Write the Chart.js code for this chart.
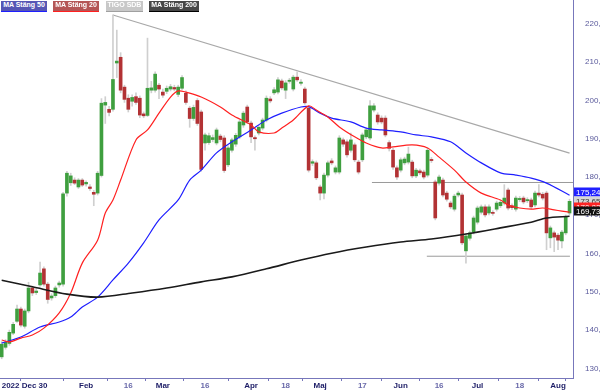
<!DOCTYPE html>
<html>
<head>
<meta charset="utf-8">
<script src="https://cdn.jsdelivr.net/npm/chart.js@4.4.0/dist/chart.umd.min.js"></script>
<style>
  body { margin: 0; background: #fff; }
  #wrap { position: relative; width: 600px; height: 390px; }
  .lg { position: absolute; top: 1px; height: 11px; line-height: 10px; font: bold 7px "Liberation Sans", Arial, sans-serif;
        color: #fff; text-align: center; box-sizing: border-box; border-bottom: 1px solid; white-space: nowrap; overflow: hidden; }
</style>
</head>
<body>
<div id="wrap">
  <canvas id="c" width="600" height="390"></canvas>
  <div class="lg" style="left:1px;width:46px;background:#5656b4;border-color:#1e1eff">MA Stäng 50</div>
  <div class="lg" style="left:53px;width:46px;background:#b45656;border-color:#ff2020">MA Stäng 20</div>
  <div class="lg" style="left:106px;width:37px;background:#c8c8c8;border-color:#a0a0a0">TIGO SDB</div>
  <div class="lg" style="left:149px;width:50px;background:#474747;border-color:#000">MA Stäng 200</div>
</div>
<script>
// daily candles, one per trading day from 2022-12-30 (index 0) to 2023-08-04 (index 148)
let open = [133.0,135.5,136.5,139.2,142.3,145.5,141.0,145.0,151.0,149.8,151.8,156.0,152.0,148.4,149.0,151.8,152.0,175.8,178.5,179.2,
  177.4,179.2,178.2,177.4,176.0,175.8,180.4,198.8,197.7,197.7,209.8,211.3,203.5,200.6,199.8,201.0,200.6,196.5,196.1,202.7,
  202.7,204.0,202.2,202.4,203.0,203.4,201.6,203.2,201.9,198.0,195.3,200.0,197.0,188.9,189.0,189.8,188.9,190.7,190.2,183.2,
  187.0,188.6,190.5,193.6,198.3,194.1,190.3,191.5,192.8,194.9,200.4,202.0,202.2,205.1,202.7,205.0,203.0,206.1,204.5,203.0,
  198.0,183.6,183.7,177.4,175.8,180.5,184.2,181.3,181.3,189.7,189.2,187.0,188.4,183.9,184.5,190.5,190.2,197.5,196.2,195.4,
  195.4,189.0,187.0,182.4,181.8,183.7,183.9,183.9,180.3,181.6,181.3,180.5,184.6,178.7,178.4,179.2,175.8,173.2,171.6,175.3,
  175.3,160.7,164.0,165.6,168.2,170.8,172.2,170.6,170.7,171.6,172.5,173.2,176.6,172.5,171.6,174.1,174.5,173.8,174.0,172.7,
  175.8,175.5,175.8,164.1,165.4,164.8,163.3,165.4,170.6];
let close = [136.3,136.8,139.4,141.5,145.5,141.3,145.0,151.0,149.7,150.2,154.9,152.0,148.0,148.9,151.0,152.3,175.6,181.0,180.3,178.4,
  179.2,177.9,178.6,177.0,175.5,181.0,199.3,199.5,196.9,205.5,210.3,202.7,200.3,197.7,200.8,199.5,196.2,196.0,203.2,203.3,
  206.9,203.0,201.4,203.2,203.6,203.0,203.5,206.0,199.5,195.3,198.2,194.0,182.0,191.0,190.8,190.3,192.3,189.8,181.7,187.6,
  189.7,190.9,194.4,196.7,194.4,190.5,190.0,193.0,194.9,200.6,199.9,202.8,205.4,203.3,204.6,205.3,206.1,205.4,204.8,199.4,
  181.8,184.0,179.8,175.8,180.5,183.7,183.7,182.4,190.2,188.6,185.8,189.7,184.5,181.3,191.0,192.3,198.6,198.6,194.4,194.4,
  191.0,187.5,182.6,180.0,184.5,184.7,186.0,180.3,181.8,181.1,180.0,187.0,184.3,169.3,180.0,175.3,174.2,172.2,175.0,175.8,
  162.8,164.6,165.4,169.3,171.9,172.2,170.1,172.2,170.5,173.2,173.4,174.5,171.9,172.0,174.5,174.4,173.5,174.1,172.2,175.8,
  175.3,174.5,165.4,166.7,164.3,163.5,165.6,169.6,173.65];
let high = [137.0,137.5,140.0,142.0,146.5,146.0,145.5,152.5,151.5,150.8,157.8,156.5,152.5,149.5,151.5,152.8,176.0,181.5,181.0,179.8,
  179.6,179.6,179.0,178.0,176.5,181.5,200.5,201.0,198.5,222.4,218.4,212.5,204.0,201.5,201.5,202.0,201.2,197.0,216.3,205.0,
  207.5,204.5,203.0,203.8,204.2,204.0,204.0,206.5,202.5,198.5,198.8,200.5,197.5,191.5,191.5,191.0,192.8,191.2,190.8,188.2,
  190.2,191.4,195.0,197.2,198.8,194.6,190.8,193.5,195.4,201.2,201.0,203.4,206.0,205.6,205.2,205.8,206.6,207.5,205.5,203.5,
  198.5,184.5,184.2,177.9,181.0,184.2,184.8,182.9,190.8,190.2,189.7,191.5,188.9,184.4,191.5,192.8,200.0,199.2,196.8,196.0,
  196.0,189.5,187.5,182.9,185.0,185.2,187.8,184.4,182.3,182.1,181.8,187.6,185.1,179.2,180.5,179.7,176.3,173.7,175.5,176.3,
  175.8,165.1,165.9,169.8,172.4,172.7,172.7,172.7,171.2,173.7,173.9,178.0,177.1,173.0,175.0,174.9,175.0,174.6,174.5,176.3,
  178.0,176.0,176.3,167.2,165.9,165.3,166.1,170.1,174.2];
let low = [132.5,135.0,136.0,138.8,142.0,140.8,140.5,144.5,149.0,149.3,151.5,151.5,147.0,147.8,148.5,151.2,151.5,175.0,177.8,178.0,
  177.0,177.5,177.6,176.5,172.5,175.3,180.0,194.0,196.0,197.2,206.0,202.0,199.5,197.0,198.5,199.0,195.5,195.5,195.8,202.0,
  202.2,200.5,200.8,201.8,202.5,202.5,201.0,202.8,199.0,193.0,194.8,193.5,181.5,187.0,188.5,189.2,188.4,189.2,181.2,182.7,
  186.5,188.0,190.0,193.0,194.0,189.0,187.0,191.0,192.3,194.4,199.4,201.5,201.7,202.8,200.5,204.5,202.5,205.0,204.0,199.0,
  181.3,183.0,179.3,174.0,174.3,180.0,183.2,180.8,180.8,188.0,185.2,186.5,184.0,180.8,184.0,190.0,189.7,197.0,193.8,193.9,
  190.5,186.8,182.0,179.4,181.3,183.2,183.4,179.8,179.8,180.6,179.5,180.0,183.8,168.8,177.9,174.8,173.7,171.7,171.1,174.8,
  162.3,157.5,163.5,165.1,167.7,170.3,169.6,170.1,170.0,171.1,172.0,172.7,171.4,171.5,171.1,173.6,173.0,173.3,171.7,172.2,
  174.8,174.0,161.0,161.5,160.5,161.0,161.5,164.9,170.1];

// moving averages (day index, value)
let ma20Idx = [0, 2, 5, 8, 11, 15, 18, 21, 25, 27, 29, 31, 35, 38, 41, 44, 46, 48, 52, 57, 60, 65, 67, 71, 73, 76, 80, 82, 85, 88, 92, 95, 99, 102, 107, 111, 114, 118, 121, 125, 130, 132, 135, 138, 141, 144, 146, 148];
let ma20Val = [137.4,136.9,137.9,138.7,140.5,144.5,149.7,157.5,163.5,170.6,174.0,179.2,189.7,192.3,196.7,200.9,202.5,202.2,200.9,198.3,196.2,193.6,191.8,191.5,192.8,194.9,198.6,197.5,195.7,193.1,190.5,188.9,187.6,187.9,188.4,187.6,185.2,181.8,178.7,175.8,174.0,172.7,171.9,171.6,171.9,171.4,171.1,170.82];
let ma50Idx = [0, 5, 10, 15, 18, 21, 25, 29, 33, 37, 41, 46, 49, 52, 56, 60, 65, 69, 73, 78, 80, 83, 86, 91, 95, 99, 104, 108, 112, 117, 121, 125, 130, 134, 138, 142, 148];
let ma50Val = [136.6,138.2,140.8,142.1,143.4,146.0,148.6,153.1,157.5,162.8,168.8,174.0,179.2,181.8,186.3,189.2,192.3,194.9,196.7,198.3,198.4,196.7,195.4,194.4,192.8,192.3,191.8,191.0,190.5,189.2,186.3,183.7,181.1,180.5,179.7,178.4,175.24];
let ma200Idx = [0, 8, 17, 25, 34, 43, 52, 60, 69, 78, 86, 95, 104, 112, 121, 130, 138, 142, 148];
let ma200Val = [153.0,151.3,149.4,148.6,149.7,151.0,152.6,153.9,156.0,158.3,160.1,161.7,163.0,163.8,165.1,166.7,168.2,169.3,169.73];

// drawn support / resistance lines
let trendIdx = [29, 148];
let trendVal = [222.35, 186.25];
let resistIdx = [96.5, 148.9];
let resistVal = [178.57, 178.57];
let supportIdx = [110.8, 148.1];
let supportVal = [159.3, 159.3];

// right side value tags: MA50, last close, MA20, MA200
let tagVal = [175.24, 173.65, 170.82, 169.73];

let yTicks = [130, 140, 150, 160, 170, 180, 190, 200, 210, 220];
let xTickPos = [0, 10, 22, 33, 42, 53, 65, 74, 83, 94, 104, 114, 124, 135, 145, 148.9];
let xTickText = ['2022 Dec 30', '', 'Feb', '16', 'Mar', '16', 'Apr', '18', 'Maj', '17', 'Jun', '16', 'Jul', '18', 'Aug', ''];
let xTickMonth = [true, false, true, false, true, false, true, false, true, false, true, false, true, false, true, false];

const green = '#3f9f3f', red = '#b23234';
const fmt = v => v.toFixed(2).replace('.', ',');
const pts = (xs, ys) => xs.map((x, i) => ({ x: x, y: ys[i] }));

const tagStyle = [
  { bg: '#2020ff', fg: '#ffffff', dy: -3 },
  { bg: '#d6d6d6', fg: '#333333', dy: 0 },
  { bg: '#ff2424', fg: '#ffffff', dy: -5 },
  { bg: '#111111', fg: '#ffffff', dy: -5 }
];

const tags = {
  id: 'tags',
  afterDraw(chart) {
    const c = chart.ctx, ys = chart.scales.y, left = chart.chartArea.right + 1;
    c.save();
    c.font = '8px "Liberation Sans", Arial, sans-serif';
    c.textBaseline = 'middle';
    tagVal.forEach((v, i) => {
      const s = tagStyle[i];
      const py = Math.round(ys.getPixelForValue(v) + s.dy);
      c.fillStyle = s.bg;
      c.fillRect(left, py - 4.5, 600 - left, 9);
      c.fillStyle = s.fg;
      c.fillText(fmt(v), left + 2, py + 0.5);
    });
    c.restore();
  }
};

const idx = open.map((_, i) => i);

new Chart(document.getElementById('c').getContext('2d'), {
  type: 'line',
  data: {
    datasets: [
      { type: 'line', data: pts(ma200Idx, ma200Val), borderColor: '#1a1a1a', borderWidth: 1.6, pointRadius: 0, tension: 0.3, order: 0 },
      { type: 'line', data: pts(ma20Idx, ma20Val), borderColor: '#ff2020', borderWidth: 1.2, pointRadius: 0, tension: 0.3, order: 0 },
      { type: 'line', data: pts(ma50Idx, ma50Val), borderColor: '#1e1eff', borderWidth: 1.2, pointRadius: 0, tension: 0.3, order: 0 },
      { type: 'bar', data: idx.map(i => ({ x: i, y: [open[i], close[i]] })), grouped: false, barThickness: 3, minBarLength: 1,
        backgroundColor: idx.map(i => close[i] >= open[i] ? green : red), order: 1 },
      { type: 'bar', data: idx.map(i => ({ x: i, y: [low[i], high[i]] })), grouped: false, barThickness: 1,
        backgroundColor: '#cfcfcf', order: 2 },
      { type: 'line', data: pts(trendIdx, trendVal), borderColor: '#a8a8a8', borderWidth: 1.2, pointRadius: 0, order: 3 },
      { type: 'line', data: pts(resistIdx, resistVal), borderColor: '#9a9a9a', borderWidth: 1, pointRadius: 0, order: 3 },
      { type: 'line', data: pts(supportIdx, supportVal), borderColor: '#9a9a9a', borderWidth: 1, pointRadius: 0, order: 3 }
    ]
  },
  options: {
    responsive: false,
    animation: false,
    layout: { padding: 0 },
    plugins: { legend: { display: false }, tooltip: { enabled: false } },
    scales: {
      x: {
        type: 'linear', min: -0.44, max: 148.9, offset: false,
        grid: { display: true, drawOnChartArea: false, drawTicks: true, tickLength: 3, color: '#7777bb' },
        border: { display: true, color: '#7777bb' },
        afterBuildTicks: s => { s.ticks = xTickPos.map(v => ({ value: v })); },
        afterFit: s => { s.height = 12; s.paddingLeft = 0; s.paddingRight = 0; },
        ticks: {
          autoSkip: false, maxRotation: 0, align: 'inner', padding: 0,
          callback: (v, i) => xTickText[i],
          color: c => xTickMonth[c.index] ? '#1c1c66' : '#6a6aaa',
          font: { family: '"Liberation Sans", Arial, sans-serif', size: 8, weight: 'bold' }
        }
      },
      y: {
        type: 'linear', position: 'right', min: 127.47, max: 226.27,
        grid: { display: false },
        border: { display: true, color: '#7777bb' },
        afterBuildTicks: s => { s.ticks = yTicks.map(v => ({ value: v })); },
        afterFit: s => { s.width = 27; s.paddingTop = 0; s.paddingBottom = 0; },
        ticks: {
          padding: 4, color: '#5a5a9c',
          callback: v => fmt(v),
          font: { family: '"Liberation Sans", Arial, sans-serif', size: 8 }
        }
      }
    }
  },
  plugins: [tags]
});
</script>
</body>
</html>
